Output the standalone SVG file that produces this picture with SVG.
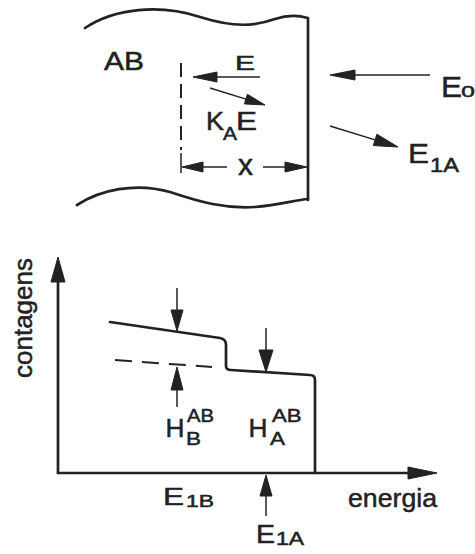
<svg xmlns="http://www.w3.org/2000/svg" width="475" height="554" viewBox="0 0 475 554">
<style>
.ln{fill:none;stroke:#222;stroke-width:2.7;stroke-linecap:round;stroke-linejoin:round}
.th{fill:none;stroke:#222;stroke-width:1.5}
.ah{fill:#222;stroke:#222;stroke-width:1;stroke-linejoin:round}
.dash{fill:none;stroke:#222;stroke-width:2}
text{font-family:"Liberation Sans",Arial,sans-serif;fill:#222;stroke:#222;stroke-width:0.5}
</style>
<rect width="475" height="554" fill="#fff"/>
<g id="sample">
<path class="ln" d="M85,28 C115,8 160,4 200,17 C235,28 255,26 275,19 C290,14 300,16 308,18 L308,200"/>
<path class="ln" d="M77,205 C100,190 135,182 170,192 C200,202 225,209 255,207 C280,205 295,200 308,199"/>
<text x="104" y="70" font-size="25" textLength="40" lengthAdjust="spacingAndGlyphs">AB</text>
</g>
<g id="depth">
<line class="dash" x1="181" y1="63" x2="181" y2="150" stroke-dasharray="14 7"/>
<line class="th" x1="181" y1="153" x2="181" y2="173"/>
<text x="238" y="175" font-size="30" textLength="15" lengthAdjust="spacingAndGlyphs">x</text>
</g>
<g id="labels-inside">
<text x="235" y="70" font-size="21" textLength="20" lengthAdjust="spacingAndGlyphs">E</text>
<text x="206" y="130" font-size="25" textLength="18" lengthAdjust="spacingAndGlyphs">K</text>
<text x="223" y="140" font-size="18" textLength="14" lengthAdjust="spacingAndGlyphs">A</text>
<text x="236" y="130" font-size="25" textLength="21" lengthAdjust="spacingAndGlyphs">E</text>
</g>
<g id="E0">
<text x="441" y="97" font-size="30" textLength="21" lengthAdjust="spacingAndGlyphs">E</text>
<text x="461" y="97" font-size="20" textLength="14" lengthAdjust="spacingAndGlyphs">o</text>
</g>
<g id="E1A-top">
<text x="408" y="163" font-size="28" textLength="21" lengthAdjust="spacingAndGlyphs">E</text>
<text x="430" y="172" font-size="21" textLength="29" lengthAdjust="spacingAndGlyphs">1A</text>
</g>
<g id="axes">
<line class="ln" x1="58" y1="473" x2="58" y2="275"/>
<line class="ln" x1="58" y1="473" x2="415" y2="473"/>
<text transform="translate(32,378) rotate(-90)" font-size="26" textLength="120" lengthAdjust="spacingAndGlyphs">contagens</text>
<text x="348" y="507" font-size="26" textLength="89" lengthAdjust="spacingAndGlyphs">energia</text>
</g>
<g id="spectrum">
<path class="ln" d="M110,322 L220,338 Q226,339 226,345 L226,366 Q226,370 231,370 L310,375 Q315,375 315,380 L315,473"/>
<line class="dash" x1="115" y1="360" x2="212" y2="367" stroke-dasharray="17 10"/>
</g>
<g id="HB">
<text x="165.5" y="437" font-size="25" textLength="19" lengthAdjust="spacingAndGlyphs">H</text>
<text x="187" y="422" font-size="18" textLength="27" lengthAdjust="spacingAndGlyphs">AB</text>
<text x="186" y="445" font-size="18" textLength="15" lengthAdjust="spacingAndGlyphs">B</text>
</g>
<g id="HA">
<text x="248.5" y="437" font-size="25" textLength="19" lengthAdjust="spacingAndGlyphs">H</text>
<text x="272" y="422" font-size="18" textLength="29.5" lengthAdjust="spacingAndGlyphs">AB</text>
<text x="270" y="445" font-size="18" textLength="15" lengthAdjust="spacingAndGlyphs">A</text>
</g>
<g id="E1B">
<text x="163" y="505" font-size="24" textLength="21" lengthAdjust="spacingAndGlyphs">E</text>
<text x="186" y="507" font-size="17" textLength="28" lengthAdjust="spacingAndGlyphs">1B</text>
</g>
<g id="E1A-bottom">
<text x="256" y="543" font-size="25" textLength="19" lengthAdjust="spacingAndGlyphs">E</text>
<text x="276" y="545" font-size="18" textLength="28" lengthAdjust="spacingAndGlyphs">1A</text>
</g>
<g id="connectors">
<line class="th" x1="260" y1="77" x2="210" y2="77"/>
<polygon class="ah" points="193,77 217,72 217,82"/>
<line class="th" x1="210" y1="88" x2="250" y2="100.4"/>
<polygon class="ah" points="265,105 244.4,103.9 247.4,94.3"/>
<line class="th" x1="430" y1="75" x2="345" y2="75"/>
<polygon class="ah" points="330,75 355,70 355,80"/>
<line class="th" x1="330" y1="126" x2="380" y2="141.4"/>
<polygon class="ah" points="398,147 373.3,145.6 376.9,134.2"/>
<line class="th" x1="195" y1="167" x2="227" y2="167"/>
<polygon class="ah" points="182,167 203,162 203,172"/>
<line class="th" x1="263" y1="167" x2="295" y2="167"/>
<polygon class="ah" points="307,167 285,162 285,172"/>
<polygon class="ah" points="58,257 51,282 65,282"/>
<polygon class="ah" points="437,473 408,467 408,479"/>
<line class="th" x1="177" y1="288" x2="177" y2="315"/>
<polygon class="ah" points="177,331 171,310 183,310"/>
<line class="th" x1="266" y1="328" x2="266" y2="355"/>
<polygon class="ah" points="266,372 259,350 273,350"/>
<line class="th" x1="177" y1="385" x2="177" y2="407"/>
<polygon class="ah" points="177,367 171,390 183,390"/>
<line class="th" x1="266" y1="490" x2="266" y2="516"/>
<polygon class="ah" points="266,475 260,496 272,496"/>
</g>
</svg>
